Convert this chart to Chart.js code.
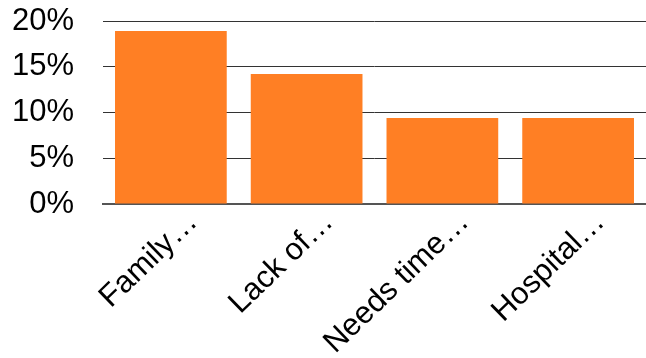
<!DOCTYPE html>
<html>
<head>
<meta charset="utf-8">
<script src="https://cdn.jsdelivr.net/npm/chart.js@4"></script>
<style>
  html, body { margin: 0; padding: 0; background: #fff; }
  #wrap { width: 646px; height: 358px; }
</style>
</head>
<body>
<div id="wrap"><canvas id="c" width="646" height="358"></canvas></div>
<script>
// Share of responses per reason (percent)
const categories = ["Family…", "Lack of…", "Needs time…", "Hospital…"];
const shares = [18.9, 14.2, 9.4, 9.4];
const yTicks = [0, 5, 10, 15, 20];

const FONT = "'Liberation Sans', Arial, sans-serif";

new Chart(document.getElementById('c'), {
  type: 'bar',
  data: {
    labels: categories,
    datasets: [{
      data: shares,
      backgroundColor: '#FF7F24',
      borderWidth: 0,
      barPercentage: 0.823,
      categoryPercentage: 1.0
    }]
  },
  options: {
    responsive: false,
    animation: false,
    devicePixelRatio: 1,
    layout: { padding: { left: 10, right: 0, top: 21, bottom: 0 } },
    plugins: { legend: { display: false }, tooltip: { enabled: false } },
    scales: {
      x: {
        grid: { display: false, drawTicks: false },
        border: { display: true, color: '#555', width: 2 },
        afterFit: (s) => { s.height = 154; },
        ticks: {
          color: '#000',
          font: { family: FONT, size: 31 },
          minRotation: 44,
          maxRotation: 44,
          autoSkip: false,
          padding: 0,
          labelOffset: 22
        }
      },
      y: {
        min: 0,
        max: 20,
        afterBuildTicks: (axis) => { axis.ticks = yTicks.map(v => ({ value: v })); },
        afterFit: (s) => { s.width = 93; s.paddingTop = 0; s.paddingBottom = 0; },
        grid: { color: '#333', lineWidth: 1, drawTicks: false },
        border: { display: false },
        ticks: {
          color: '#000',
          font: { family: FONT, size: 31 },
          padding: 29,
          autoSkip: false,
          callback: (v) => v + '%'
        }
      }
    }
  }
});
</script>
</body>
</html>
